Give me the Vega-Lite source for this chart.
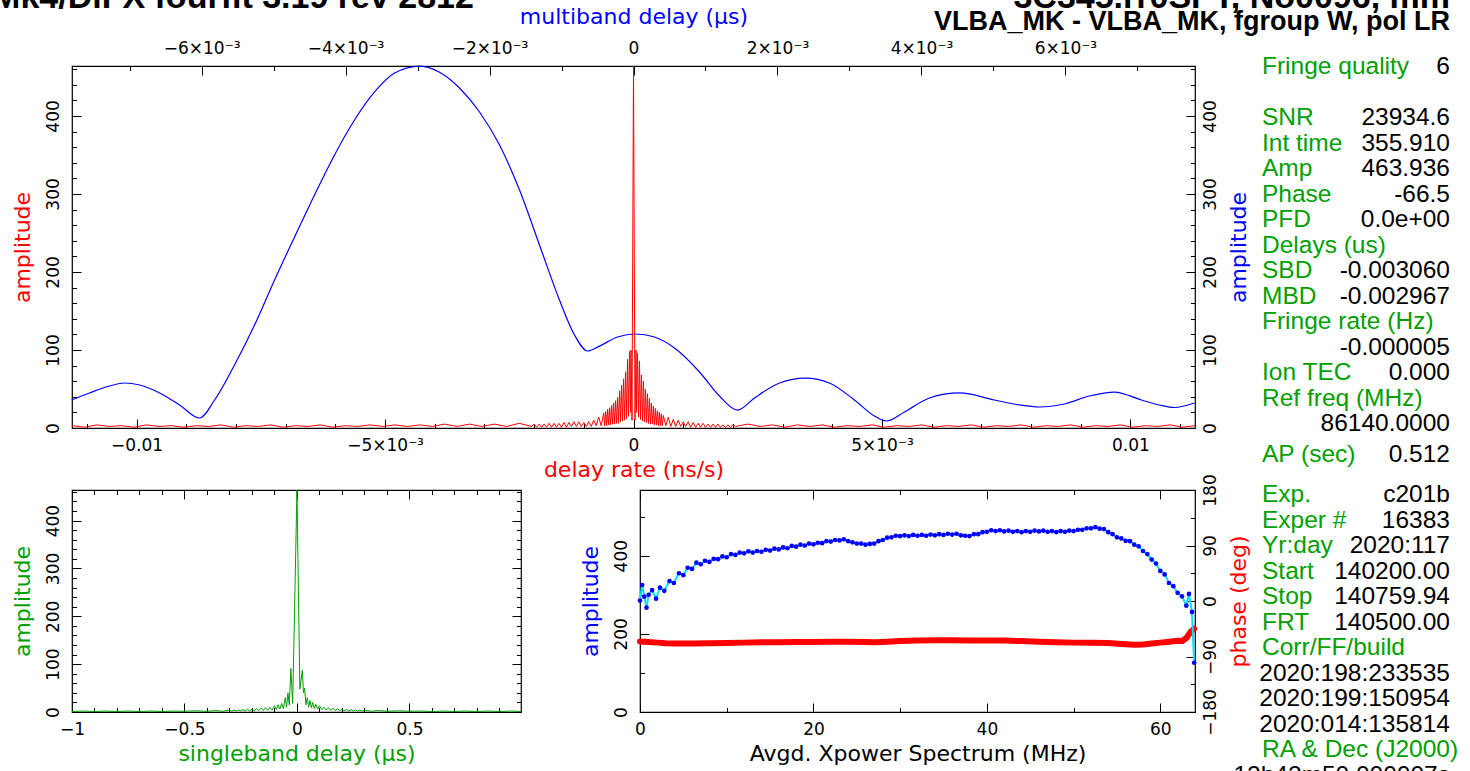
{
  "$schema": "https://vega.github.io/schema/vega-lite/v6.json",
  "autosize": {"type": "none"},
  "padding": {"left": 72, "top": 66, "right": 1398, "bottom": 705},
  "background": "white",
  "config": {
    "view": {"stroke": "black", "strokeWidth": 1.2},
    "axis": {"domain": false, "grid": false, "labelFont": "DejaVu Sans", "labelFontSize": 17, "labelColor": "black", "titleFont": "DejaVu Sans", "titleFontSize": 22, "titleFontWeight": "normal", "labelFlush": false, "labelOverlap": false, "tickColor": "black", "tickWidth": 1, "labelBound": false}
  },
  "datasets": {
    "rate": [
      {"rate":-0.0113,"amp":3},{"rate":-0.01105,"amp":1},{"rate":-0.0108,"amp":4},{"rate":-0.01055,"amp":2},{"rate":-0.0103,"amp":3},{"rate":-0.01005,"amp":1},{"rate":-0.0098,"amp":4},{"rate":-0.00955,"amp":2},{"rate":-0.0093,"amp":3},{"rate":-0.00905,"amp":1},{"rate":-0.0088,"amp":3},{"rate":-0.00855,"amp":2},{"rate":-0.0083,"amp":4},{"rate":-0.00805,"amp":1},{"rate":-0.0078,"amp":3},{"rate":-0.00755,"amp":2},{"rate":-0.0073,"amp":4},{"rate":-0.00705,"amp":1},{"rate":-0.0068,"amp":3},{"rate":-0.00655,"amp":2},{"rate":-0.0063,"amp":4},{"rate":-0.00605,"amp":1},{"rate":-0.0058,"amp":3},{"rate":-0.00555,"amp":2},{"rate":-0.0053,"amp":4},{"rate":-0.00505,"amp":2},{"rate":-0.0048,"amp":4},{"rate":-0.00455,"amp":2},{"rate":-0.0043,"amp":4},{"rate":-0.00405,"amp":2},{"rate":-0.0038,"amp":5},{"rate":-0.00355,"amp":2},{"rate":-0.0033,"amp":5},{"rate":-0.00305,"amp":2},{"rate":-0.0028,"amp":5},{"rate":-0.00255,"amp":2},{"rate":-0.0023,"amp":6},{"rate":-0.00205,"amp":2},
      {"rate":-0.002,"amp":5},{"rate":-0.00195,"amp":1},{"rate":-0.0019,"amp":5},{"rate":-0.00185,"amp":1},{"rate":-0.0018,"amp":5},{"rate":-0.00175,"amp":1},{"rate":-0.0017,"amp":6},{"rate":-0.00165,"amp":1},{"rate":-0.0016,"amp":6},{"rate":-0.00155,"amp":1},{"rate":-0.0015,"amp":6},{"rate":-0.00145,"amp":1},{"rate":-0.0014,"amp":7},{"rate":-0.00135,"amp":1},{"rate":-0.0013,"amp":7},{"rate":-0.00125,"amp":2},{"rate":-0.0012,"amp":8},{"rate":-0.00115,"amp":2},{"rate":-0.0011,"amp":8},{"rate":-0.00105,"amp":2},{"rate":-0.001,"amp":7},{"rate":-0.00095,"amp":2},{"rate":-0.0009,"amp":8},{"rate":-0.00085,"amp":2},{"rate":-0.0008,"amp":10},{"rate":-0.00075,"amp":3},{"rate":-0.0007,"amp":14},{"rate":-0.00065,"amp":3},
      {"rate":-0.0006,"amp":19},{"rate":-0.00058,"amp":3},{"rate":-0.00056,"amp":21},{"rate":-0.00054,"amp":3},{"rate":-0.00052,"amp":24},{"rate":-0.0005,"amp":4},{"rate":-0.00048,"amp":26},{"rate":-0.00046,"amp":4},{"rate":-0.00044,"amp":29},{"rate":-0.00042,"amp":5},{"rate":-0.0004,"amp":32},{"rate":-0.00038,"amp":5},{"rate":-0.00036,"amp":35},{"rate":-0.00034,"amp":6},{"rate":-0.00032,"amp":39},{"rate":-0.0003,"amp":6},{"rate":-0.00028,"amp":48},{"rate":-0.00026,"amp":8},{"rate":-0.00024,"amp":55},{"rate":-0.00022,"amp":9},{"rate":-0.0002,"amp":63},{"rate":-0.00018,"amp":10},{"rate":-0.00016,"amp":72},{"rate":-0.00014,"amp":12},{"rate":-0.00012,"amp":88},{"rate":-0.0001,"amp":15},{"rate":-0.00008,"amp":98},{"rate":-0.00006,"amp":20},{"rate":-0.00005,"amp":100},{"rate":-0.00003,"amp":10},
      {"rate":0,"amp":463.9},
      {"rate":0.00003,"amp":10},{"rate":0.00005,"amp":100},{"rate":0.00006,"amp":20},{"rate":0.00008,"amp":96},{"rate":0.0001,"amp":14},{"rate":0.00012,"amp":86},{"rate":0.00014,"amp":11},{"rate":0.00016,"amp":68},{"rate":0.00018,"amp":9},{"rate":0.0002,"amp":60},{"rate":0.00022,"amp":8},{"rate":0.00024,"amp":50},{"rate":0.00026,"amp":7},{"rate":0.00028,"amp":44},{"rate":0.0003,"amp":6},{"rate":0.00032,"amp":38},{"rate":0.00034,"amp":5},{"rate":0.00036,"amp":32},{"rate":0.00038,"amp":5},{"rate":0.0004,"amp":28},{"rate":0.00042,"amp":4},{"rate":0.00044,"amp":25},{"rate":0.00046,"amp":4},{"rate":0.00048,"amp":22},{"rate":0.0005,"amp":3},{"rate":0.00052,"amp":20},{"rate":0.00054,"amp":3},{"rate":0.00056,"amp":18},{"rate":0.00058,"amp":3},{"rate":0.0006,"amp":16},
      {"rate":0.00065,"amp":3},{"rate":0.0007,"amp":14},{"rate":0.00075,"amp":2},{"rate":0.0008,"amp":11},{"rate":0.00085,"amp":2},{"rate":0.0009,"amp":10},{"rate":0.00095,"amp":2},{"rate":0.001,"amp":8},{"rate":0.00105,"amp":2},{"rate":0.0011,"amp":8},{"rate":0.00115,"amp":1},{"rate":0.0012,"amp":7},{"rate":0.00125,"amp":1},{"rate":0.0013,"amp":6},{"rate":0.00135,"amp":1},{"rate":0.0014,"amp":6},{"rate":0.00145,"amp":1},{"rate":0.0015,"amp":5},{"rate":0.00155,"amp":1},{"rate":0.0016,"amp":5},{"rate":0.00165,"amp":1},{"rate":0.0017,"amp":5},{"rate":0.00175,"amp":1},{"rate":0.0018,"amp":4},{"rate":0.00185,"amp":1},{"rate":0.0019,"amp":4},{"rate":0.00195,"amp":1},{"rate":0.002,"amp":4},
      {"rate":0.00205,"amp":2},{"rate":0.0023,"amp":5},{"rate":0.00255,"amp":2},{"rate":0.0028,"amp":4},{"rate":0.00305,"amp":1},{"rate":0.0033,"amp":4},{"rate":0.00355,"amp":2},{"rate":0.0038,"amp":4},{"rate":0.00405,"amp":1},{"rate":0.0043,"amp":3},{"rate":0.00455,"amp":2},{"rate":0.0048,"amp":4},{"rate":0.00505,"amp":1},{"rate":0.0053,"amp":3},{"rate":0.00555,"amp":2},{"rate":0.0058,"amp":4},{"rate":0.00605,"amp":1},{"rate":0.0063,"amp":3},{"rate":0.00655,"amp":2},{"rate":0.0068,"amp":4},{"rate":0.00705,"amp":1},{"rate":0.0073,"amp":3},{"rate":0.00755,"amp":2},{"rate":0.0078,"amp":4},{"rate":0.00805,"amp":1},{"rate":0.0083,"amp":3},{"rate":0.00855,"amp":2},{"rate":0.0088,"amp":4},{"rate":0.00905,"amp":1},{"rate":0.0093,"amp":3},{"rate":0.00955,"amp":2},{"rate":0.0098,"amp":4},{"rate":0.01005,"amp":1},{"rate":0.0103,"amp":3},{"rate":0.01055,"amp":2},{"rate":0.0108,"amp":4},{"rate":0.01105,"amp":1},{"rate":0.0113,"amp":3}
    ],
    "mbd": [
      {"mbd":-0.007806,"amp":35.9},{"mbd":-0.007556,"amp":44.9},{"mbd":-0.007278,"amp":53.8},{"mbd":-0.007069,"amp":57.7},{"mbd":-0.006861,"amp":55.1},{"mbd":-0.006583,"amp":44.9},{"mbd":-0.006306,"amp":29.5},{"mbd":-0.006028,"amp":12.8},{"mbd":-0.005819,"amp":35.9},{"mbd":-0.005542,"amp":80.8},{"mbd":-0.005264,"amp":132},{"mbd":-0.004986,"amp":189.7},{"mbd":-0.004708,"amp":244.8},{"mbd":-0.004431,"amp":298.7},{"mbd":-0.004153,"amp":350},{"mbd":-0.003875,"amp":394.8},{"mbd":-0.003597,"amp":430.7},{"mbd":-0.003319,"amp":455},{"mbd":-0.002967,"amp":463.9},{"mbd":-0.002694,"amp":456},{"mbd":-0.002417,"amp":435.8},{"mbd":-0.002139,"amp":405},{"mbd":-0.001861,"amp":362.7},{"mbd":-0.001583,"amp":305},{"mbd":-0.001306,"amp":234.6},{"mbd":-0.001028,"amp":164},{"mbd":-0.000819,"amp":119.2},{"mbd":-0.000639,"amp":98.7},{"mbd":-0.000472,"amp":105},{"mbd":-0.000222,"amp":116.6},{"mbd":0.000028,"amp":120.5},{"mbd":0.000292,"amp":116.6},{"mbd":0.000569,"amp":102.5},{"mbd":0.000917,"amp":71.8},{"mbd":0.001194,"amp":41},{"mbd":0.001444,"amp":23},{"mbd":0.001681,"amp":38.5},{"mbd":0.002028,"amp":57.7},{"mbd":0.002389,"amp":64},{"mbd":0.002722,"amp":57.7},{"mbd":0.003069,"amp":35.9},{"mbd":0.003347,"amp":15.4},{"mbd":0.003514,"amp":9},{"mbd":0.003764,"amp":20.5},{"mbd":0.004111,"amp":38.5},{"mbd":0.004528,"amp":44.9},{"mbd":0.005014,"amp":35.9},{"mbd":0.005361,"amp":29.5},{"mbd":0.005639,"amp":26.9},{"mbd":0.005986,"amp":30.8},{"mbd":0.006333,"amp":41},{"mbd":0.006681,"amp":46.1},{"mbd":0.007056,"amp":35.9},{"mbd":0.007306,"amp":29.5},{"mbd":0.007514,"amp":26.3},{"mbd":0.007792,"amp":32}
    ],
    "sbd": [
      {"sbd":-1,"amp":1},{"sbd":-0.95,"amp":2},{"sbd":-0.9,"amp":1},{"sbd":-0.85,"amp":2},{"sbd":-0.8,"amp":1},{"sbd":-0.75,"amp":2},{"sbd":-0.7,"amp":1},{"sbd":-0.65,"amp":2},{"sbd":-0.6,"amp":1},{"sbd":-0.55,"amp":2},{"sbd":-0.5,"amp":1.5},{"sbd":-0.45,"amp":2.5},{"sbd":-0.4,"amp":1.5},{"sbd":-0.36,"amp":3},{"sbd":-0.33,"amp":1.5},{"sbd":-0.3,"amp":4},{"sbd":-0.29,"amp":1.5},{"sbd":-0.28,"amp":4},{"sbd":-0.27,"amp":2},{"sbd":-0.26,"amp":4.5},{"sbd":-0.25,"amp":2},{"sbd":-0.24,"amp":5},{"sbd":-0.23,"amp":2},{"sbd":-0.22,"amp":5.5},{"sbd":-0.21,"amp":2},{"sbd":-0.2,"amp":6},{"sbd":-0.19,"amp":2.5},{"sbd":-0.18,"amp":7},{"sbd":-0.17,"amp":3},{"sbd":-0.16,"amp":8},{"sbd":-0.15,"amp":3},{"sbd":-0.14,"amp":9},{"sbd":-0.13,"amp":3.5},{"sbd":-0.12,"amp":10},{"sbd":-0.11,"amp":4},{"sbd":-0.1,"amp":13},{"sbd":-0.092,"amp":5},{"sbd":-0.084,"amp":15},{"sbd":-0.076,"amp":6},{"sbd":-0.068,"amp":18},{"sbd":-0.06,"amp":7},{"sbd":-0.052,"amp":30},{"sbd":-0.046,"amp":10},{"sbd":-0.04,"amp":40},{"sbd":-0.034,"amp":15},{"sbd":-0.027,"amp":91},{"sbd":-0.019,"amp":18},{"sbd":0,"amp":463.9},{"sbd":0.013,"amp":48},{"sbd":0.024,"amp":87},{"sbd":0.029,"amp":40},{"sbd":0.034,"amp":50},{"sbd":0.04,"amp":15},{"sbd":0.046,"amp":30},{"sbd":0.052,"amp":10},{"sbd":0.058,"amp":24},{"sbd":0.064,"amp":9},{"sbd":0.07,"amp":20},{"sbd":0.077,"amp":7},{"sbd":0.084,"amp":16},{"sbd":0.092,"amp":6},{"sbd":0.1,"amp":13},{"sbd":0.11,"amp":5},{"sbd":0.12,"amp":10},{"sbd":0.13,"amp":4},{"sbd":0.14,"amp":9},{"sbd":0.15,"amp":3.5},{"sbd":0.16,"amp":8},{"sbd":0.17,"amp":3},{"sbd":0.18,"amp":7},{"sbd":0.19,"amp":3},{"sbd":0.2,"amp":6},{"sbd":0.21,"amp":2.5},{"sbd":0.22,"amp":5.5},{"sbd":0.23,"amp":2},{"sbd":0.24,"amp":5},{"sbd":0.25,"amp":2},{"sbd":0.26,"amp":4.5},{"sbd":0.27,"amp":2},{"sbd":0.28,"amp":4},{"sbd":0.29,"amp":2},{"sbd":0.3,"amp":4},{"sbd":0.33,"amp":1.5},{"sbd":0.36,"amp":3},{"sbd":0.4,"amp":1.5},{"sbd":0.45,"amp":2.5},{"sbd":0.5,"amp":1.5},{"sbd":0.55,"amp":2},{"sbd":0.6,"amp":1},{"sbd":0.65,"amp":2},{"sbd":0.7,"amp":1},{"sbd":0.75,"amp":2},{"sbd":0.8,"amp":1},{"sbd":0.85,"amp":2},{"sbd":0.9,"amp":1},{"sbd":0.95,"amp":2},{"sbd":0.996,"amp":1}
    ],
    "xp": [
      {"freq":0,"amp":285},{"freq":0.25,"amp":325},{"freq":0.5,"amp":295},{"freq":0.75,"amp":267},{"freq":1,"amp":300},{"freq":1.4,"amp":312},{"freq":1.85,"amp":290},{"freq":2.3,"amp":318},{"freq":2.8,"amp":310},{"freq":3.4,"amp":335},{"freq":3.9,"amp":330},{"freq":4.5,"amp":355},{"freq":5,"amp":350},{"freq":5.5,"amp":369},{"freq":6,"amp":366},{"freq":6.5,"amp":382},{"freq":7,"amp":378},{"freq":7.5,"amp":387},{"freq":8,"amp":384},{"freq":8.5,"amp":392},{"freq":9,"amp":391},{"freq":9.5,"amp":398},{"freq":10,"amp":396},{"freq":10.5,"amp":404},{"freq":11,"amp":402},{"freq":11.5,"amp":408},{"freq":12,"amp":406},{"freq":12.5,"amp":411},{"freq":13,"amp":408},{"freq":13.5,"amp":412},{"freq":14,"amp":410},{"freq":14.5,"amp":415},{"freq":15,"amp":413},{"freq":15.5,"amp":418},{"freq":16,"amp":416},{"freq":16.5,"amp":421},{"freq":17,"amp":419},{"freq":17.5,"amp":425},{"freq":18,"amp":423},{"freq":18.5,"amp":428},{"freq":19,"amp":426},{"freq":19.5,"amp":431},{"freq":20,"amp":429},{"freq":20.5,"amp":433},{"freq":21,"amp":432},{"freq":21.5,"amp":437},{"freq":22,"amp":436},{"freq":22.5,"amp":440},{"freq":23,"amp":439},{"freq":23.5,"amp":442},{"freq":24,"amp":437},{"freq":24.5,"amp":434},{"freq":25,"amp":431},{"freq":25.5,"amp":431},{"freq":26,"amp":428},{"freq":26.5,"amp":430},{"freq":27,"amp":431},{"freq":27.5,"amp":437},{"freq":28,"amp":440},{"freq":28.5,"amp":446},{"freq":29,"amp":447},{"freq":29.5,"amp":451},{"freq":30,"amp":450},{"freq":30.5,"amp":452},{"freq":31,"amp":450},{"freq":31.5,"amp":453},{"freq":32,"amp":451},{"freq":32.5,"amp":453},{"freq":33,"amp":451},{"freq":33.5,"amp":454},{"freq":34,"amp":452},{"freq":34.5,"amp":455},{"freq":35,"amp":453},{"freq":35.5,"amp":456},{"freq":36,"amp":454},{"freq":36.5,"amp":456},{"freq":37,"amp":452},{"freq":37.5,"amp":451},{"freq":38,"amp":450},{"freq":38.5,"amp":455},{"freq":39,"amp":455},{"freq":39.5,"amp":460},{"freq":40,"amp":461},{"freq":40.5,"amp":465},{"freq":41,"amp":463},{"freq":41.5,"amp":465},{"freq":42,"amp":462},{"freq":42.5,"amp":464},{"freq":43,"amp":461},{"freq":43.5,"amp":463},{"freq":44,"amp":460},{"freq":44.5,"amp":463},{"freq":45,"amp":461},{"freq":45.5,"amp":464},{"freq":46,"amp":462},{"freq":46.5,"amp":464},{"freq":47,"amp":461},{"freq":47.5,"amp":463},{"freq":48,"amp":460},{"freq":48.5,"amp":463},{"freq":49,"amp":461},{"freq":49.5,"amp":464},{"freq":50,"amp":463},{"freq":50.5,"amp":466},{"freq":51,"amp":466},{"freq":51.5,"amp":470},{"freq":52,"amp":470},{"freq":52.5,"amp":473},{"freq":53,"amp":469},{"freq":53.5,"amp":468},{"freq":54,"amp":460},{"freq":54.5,"amp":455},{"freq":55,"amp":447},{"freq":55.5,"amp":444},{"freq":56,"amp":438},{"freq":56.5,"amp":437},{"freq":57,"amp":428},{"freq":57.5,"amp":424},{"freq":58,"amp":412},{"freq":58.5,"amp":404},{"freq":59,"amp":390},{"freq":59.5,"amp":380},{"freq":60,"amp":361},{"freq":60.5,"amp":352},{"freq":61,"amp":330},{"freq":61.5,"amp":322},{"freq":62,"amp":305},{"freq":62.5,"amp":296},{"freq":63,"amp":272},{"freq":63.3,"amp":302},{"freq":63.65,"amp":256},{"freq":63.9,"amp":126}
    ],
    "phase": [
      {"freq":0,"phase":-65.5},{"freq":1,"phase":-66.5},{"freq":2,"phase":-67.5},{"freq":3,"phase":-68.5},{"freq":4,"phase":-69},{"freq":6,"phase":-69},{"freq":8,"phase":-68.5},{"freq":10,"phase":-68},{"freq":12,"phase":-67.5},{"freq":14,"phase":-67},{"freq":16,"phase":-67},{"freq":18,"phase":-66.5},{"freq":20,"phase":-66.5},{"freq":22,"phase":-66},{"freq":24,"phase":-66},{"freq":26,"phase":-66.5},{"freq":27,"phase":-67},{"freq":28,"phase":-66.5},{"freq":30,"phase":-65},{"freq":32,"phase":-64},{"freq":34,"phase":-63.5},{"freq":36,"phase":-63.5},{"freq":38,"phase":-64},{"freq":40,"phase":-64},{"freq":42,"phase":-64},{"freq":44,"phase":-65},{"freq":46,"phase":-66},{"freq":48,"phase":-67},{"freq":50,"phase":-67.5},{"freq":52,"phase":-67.5},{"freq":54,"phase":-68},{"freq":56,"phase":-70},{"freq":57,"phase":-71},{"freq":58,"phase":-70.5},{"freq":59,"phase":-69},{"freq":60,"phase":-67.5},{"freq":61,"phase":-66},{"freq":62,"phase":-64.5},{"freq":62.5,"phase":-65},{"freq":63,"phase":-60},{"freq":63.5,"phase":-50},{"freq":63.9,"phase":-45}
    ],
    "info": [
      {"line":0,"label":"Fringe quality","value":"6"},
      {"line":2,"label":"SNR","value":"23934.6"},
      {"line":3,"label":"Int time","value":"355.910"},
      {"line":4,"label":"Amp","value":"463.936"},
      {"line":5,"label":"Phase","value":"-66.5"},
      {"line":6,"label":"PFD","value":"0.0e+00"},
      {"line":7,"label":"Delays (us)","value":""},
      {"line":8,"label":"SBD","value":"-0.003060"},
      {"line":9,"label":"MBD","value":"-0.002967"},
      {"line":10,"label":"Fringe rate (Hz)","value":""},
      {"line":11,"label":"","value":"-0.000005"},
      {"line":12,"label":"Ion TEC","value":"0.000"},
      {"line":13,"label":"Ref freq (MHz)","value":""},
      {"line":14,"label":"","value":"86140.0000"},
      {"line":15.2,"label":"AP (sec)","value":"0.512"},
      {"line":16.8,"label":"Exp.","value":"c201b"},
      {"line":17.8,"label":"Exper #","value":"16383"},
      {"line":18.8,"label":"Yr:day","value":"2020:117"},
      {"line":19.8,"label":"Start","value":"140200.00"},
      {"line":20.8,"label":"Stop","value":"140759.94"},
      {"line":21.8,"label":"FRT","value":"140500.00"},
      {"line":22.8,"label":"Corr/FF/build","value":""},
      {"line":23.8,"label":"","value":"2020:198:233535"},
      {"line":24.8,"label":"","value":"2020:199:150954"},
      {"line":25.8,"label":"","value":"2020:014:135814"},
      {"line":26.8,"label":"RA & Dec (J2000)","value":""},
      {"line":27.8,"label":"","value":"12h42m50.000007s"}
    ],
    "head": [
      {"line":-2.71,"text":"3C345.rr0SPT, No0096, mm"},
      {"line":-1.77,"text":"VLBA_MK - VLBA_MK, fgroup W, pol LR"}
    ],
    "prog": [
      {"line":-2.71,"text":"Mk4/DiFX fourfit 3.19 rev 2812"}
    ]
  },
  "bounds": "flush",
  "spacing": 62,
  "vconcat": [
    {
      "width": 1123,
      "height": 362,
      "layer": [
        {
          "data": {"name": "mbd"},
          "mark": {"type": "line", "color": "#0000ff", "strokeWidth": 1.2, "interpolate": "monotone"},
          "encoding": {
            "x": {"field": "mbd", "type": "quantitative", "scale": {"domain": [-0.0078, 0.0078], "nice": false, "zero": false},
              "axis": {"orient": "top", "title": "multiband delay (μs)", "titleColor": "#0000ff", "values": [-0.007,-0.006,-0.005,-0.004,-0.003,-0.002,-0.001,0,0.001,0.002,0.003,0.004,0.005,0.006,0.007],
                "labelExpr": "round(datum.value*1000) == 0 ? '0' : (abs(round(datum.value*1000)) % 2 == 0 ? (datum.value < 0 ? '−' : '') + abs(round(datum.value*1000)) + '×10⁻³' : '')",
                "tickSize": {"condition": {"test": "abs(round(datum.value*1000)) % 2 == 0", "value": -9}, "value": -4.5}, "labelPadding": 18, "titlePadding": 6}},
            "y": {"field": "amp", "type": "quantitative", "scale": {"domain": [0, 464], "nice": false},
              "axis": {"orient": "right", "title": "amplitude", "titleColor": "#0000ff", "values": [0,20,40,60,80,100,120,140,160,180,200,220,240,260,280,300,320,340,360,380,400,420,440,460],
                "labelExpr": "datum.value % 100 == 0 ? datum.label : ''", "labelAngle": 270, "labelAlign": "center", "labelBaseline": "top", "titleAngle": 270, "titleBaseline": "top",
                "tickSize": {"condition": {"test": "datum.value % 100 == 0", "value": -9}, "value": -4.5}, "labelPadding": 16, "titlePadding": 6}}
          }
        },
        {
          "data": {"name": "rate"},
          "mark": {"type": "line", "color": "#ff0000", "strokeWidth": 1},
          "encoding": {
            "x": {"field": "rate", "type": "quantitative", "scale": {"domain": [-0.0113, 0.0113], "nice": false, "zero": false},
              "axis": {"orient": "bottom", "title": "delay rate (ns/s)", "titleColor": "#ff0000", "values": [-0.011,-0.01,-0.009,-0.008,-0.007,-0.006,-0.005,-0.004,-0.003,-0.002,-0.001,0,0.001,0.002,0.003,0.004,0.005,0.006,0.007,0.008,0.009,0.01,0.011],
                "labelExpr": "round(datum.value*1000) == 0 ? '0' : (abs(round(datum.value*1000)) == 10 ? (datum.value < 0 ? '−0.01' : '0.01') : (abs(round(datum.value*1000)) == 5 ? (datum.value < 0 ? '−5×10⁻³' : '5×10⁻³') : ''))",
                "tickSize": {"condition": {"test": "abs(round(datum.value*1000)) % 5 == 0", "value": -9}, "value": -4.5}, "labelPadding": 18, "titlePadding": 2}},
            "y": {"field": "amp", "type": "quantitative", "scale": {"domain": [0, 464], "nice": false},
              "axis": {"orient": "left", "title": "amplitude", "titleColor": "#ff0000", "values": [0,20,40,60,80,100,120,140,160,180,200,220,240,260,280,300,320,340,360,380,400,420,440,460],
                "labelExpr": "datum.value % 100 == 0 ? datum.label : ''", "labelAngle": 270, "labelAlign": "center", "labelBaseline": "bottom",
                "tickSize": {"condition": {"test": "datum.value % 100 == 0", "value": -9}, "value": -4.5}, "labelPadding": 19, "titlePadding": 5}}
          }
        },
        {
          "layer": [
            {
              "data": {"name": "info"},
              "mark": {"type": "text", "align": "left", "baseline": "middle", "font": "Liberation Sans", "fontSize": 24.5, "color": "#00a000"},
              "encoding": {
                "x": {"datum": 0, "type": "quantitative", "scale": {"domain": [0, 1], "range": [1190, 1378]}, "axis": null},
                "y": {"field": "line", "type": "quantitative", "scale": {"domain": [0, 28], "range": [1, 715]}, "axis": null},
                "text": {"field": "label"}
              }
            },
            {
              "data": {"name": "info"},
              "mark": {"type": "text", "align": "right", "baseline": "middle", "font": "Liberation Sans", "fontSize": 24.5, "color": "black"},
              "encoding": {
                "x": {"datum": 1, "type": "quantitative", "scale": {"domain": [0, 1], "range": [1190, 1378]}, "axis": null},
                "y": {"field": "line", "type": "quantitative", "scale": {"domain": [0, 28], "range": [1, 715]}, "axis": null},
                "text": {"field": "value"}
              }
            },
            {
              "data": {"name": "prog"},
              "mark": {"type": "text", "align": "left", "baseline": "middle", "font": "Liberation Sans", "fontSize": 34, "fontWeight": "bold", "color": "black"},
              "encoding": {
                "x": {"datum": -6.755, "type": "quantitative", "scale": {"domain": [0, 1], "range": [1190, 1378]}, "axis": null},
                "y": {"field": "line", "type": "quantitative", "scale": {"domain": [0, 28], "range": [1, 715]}, "axis": null},
                "text": {"field": "text"}
              }
            },
            {
              "data": {"name": "head"},
              "transform": [{"filter": "datum.line < -2.5"}],
              "mark": {"type": "text", "align": "right", "baseline": "middle", "font": "Liberation Sans", "fontSize": 34, "fontWeight": "bold", "color": "black"},
              "encoding": {
                "x": {"datum": 1, "type": "quantitative", "scale": {"domain": [0, 1], "range": [1190, 1378]}, "axis": null},
                "y": {"field": "line", "type": "quantitative", "scale": {"domain": [0, 28], "range": [1, 715]}, "axis": null},
                "text": {"field": "text"}
              }
            },
            {
              "data": {"name": "head"},
              "transform": [{"filter": "datum.line >= -2.5"}],
              "mark": {"type": "text", "align": "right", "baseline": "middle", "font": "Liberation Sans", "fontSize": 27, "fontWeight": "bold", "color": "black"},
              "encoding": {
                "x": {"datum": 1, "type": "quantitative", "scale": {"domain": [0, 1], "range": [1190, 1378]}, "axis": null},
                "y": {"field": "line", "type": "quantitative", "scale": {"domain": [0, 28], "range": [1, 715]}, "axis": null},
                "text": {"field": "text"}
              }
            }
          ]
        }
      ],
      "resolve": {"scale": {"x": "independent", "y": "independent"}, "axis": {"x": "independent", "y": "independent"}}
    },
    {
      "bounds": "flush",
      "spacing": 119,
      "hconcat": [
        {
          "width": 449,
          "height": 222,
          "data": {"name": "sbd"},
          "layer": [
            {
              "mark": {"type": "line", "color": "#00a000", "strokeWidth": 1},
              "encoding": {
                "x": {"field": "sbd", "type": "quantitative", "scale": {"domain": [-1, 0.996], "nice": false, "zero": false},
                  "axis": {"orient": "bottom", "title": "singleband delay (μs)", "titleColor": "#00a000", "values": [-1,-0.9,-0.8,-0.7,-0.6,-0.5,-0.4,-0.3,-0.2,-0.1,0,0.1,0.2,0.3,0.4,0.5,0.6,0.7,0.8,0.9],
                    "labelExpr": "abs(round(datum.value*10)) % 5 == 0 ? format(datum.value, '~g') : ''",
                    "tickSize": {"condition": {"test": "abs(round(datum.value*10)) % 5 == 0", "value": -9}, "value": -4.5}, "labelPadding": 18, "titlePadding": 2}},
                "y": {"field": "amp", "type": "quantitative", "scale": {"domain": [0, 464], "nice": false},
                  "axis": {"orient": "left", "title": "amplitude", "titleColor": "#00a000", "values": [0,20,40,60,80,100,120,140,160,180,200,220,240,260,280,300,320,340,360,380,400,420,440,460],
                    "labelExpr": "datum.value % 100 == 0 ? datum.label : ''", "labelAngle": 270, "labelAlign": "center", "labelBaseline": "bottom",
                    "tickSize": {"condition": {"test": "datum.value % 100 == 0", "value": -9}, "value": -4.5}, "labelPadding": 19, "titlePadding": 5}}
              }
            },
            {
              "mark": {"type": "line", "opacity": 0},
              "encoding": {
                "x": {"field": "sbd", "type": "quantitative", "scale": {"domain": [-1, 0.996], "nice": false, "zero": false},
                  "axis": {"orient": "top", "title": null, "labels": false, "values": [-1,-0.9,-0.8,-0.7,-0.6,-0.5,-0.4,-0.3,-0.2,-0.1,0,0.1,0.2,0.3,0.4,0.5,0.6,0.7,0.8,0.9],
                    "tickSize": {"condition": {"test": "abs(round(datum.value*10)) % 5 == 0", "value": -9}, "value": -4.5}}},
                "y": {"field": "amp", "type": "quantitative", "scale": {"domain": [0, 464], "nice": false},
                  "axis": {"orient": "right", "title": null, "labels": false, "values": [0,20,40,60,80,100,120,140,160,180,200,220,240,260,280,300,320,340,360,380,400,420,440,460],
                    "tickSize": {"condition": {"test": "datum.value % 100 == 0", "value": -9}, "value": -4.5}}}
              }
            }
          ],
          "resolve": {"axis": {"x": "independent", "y": "independent"}}
        },
        {
          "width": 555,
          "height": 222,
          "layer": [
            {
              "data": {"name": "phase"},
              "mark": {"type": "line", "color": "#ff0000", "strokeWidth": 6, "strokeCap": "round"},
              "encoding": {
                "x": {"field": "freq", "type": "quantitative", "scale": {"domain": [0, 64], "nice": false, "zero": false},
                  "axis": {"orient": "top", "title": null, "labels": false, "values": [0,10,20,30,40,50,60],
                    "tickSize": {"condition": {"test": "datum.value % 20 == 0", "value": -9}, "value": -4.5}}},
                "y": {"field": "phase", "type": "quantitative", "scale": {"domain": [-180, 180], "nice": false, "zero": false},
                  "axis": {"orient": "right", "title": "phase (deg)", "titleColor": "#ff0000", "values": [-180,-135,-90,-45,0,45,90,135,180],
                    "labelExpr": "datum.value % 90 == 0 ? datum.label : ''", "labelAngle": 270, "labelAlign": "center", "labelBaseline": "top", "titleAngle": 270, "titleBaseline": "top",
                    "tickSize": {"condition": {"test": "datum.value % 90 == 0", "value": -9}, "value": -4.5}, "labelPadding": 16, "titlePadding": 6}}
              }
            },
            {
              "data": {"name": "xp"},
              "mark": {"type": "line", "color": "#00e0ff", "strokeWidth": 2},
              "encoding": {
                "x": {"field": "freq", "type": "quantitative", "scale": {"domain": [0, 64], "nice": false, "zero": false},
                  "axis": {"orient": "bottom", "title": "Avgd. Xpower Spectrum (MHz)", "titleColor": "black", "values": [0,10,20,30,40,50,60],
                    "labelExpr": "datum.value % 20 == 0 ? datum.label : ''",
                    "tickSize": {"condition": {"test": "datum.value % 20 == 0", "value": -9}, "value": -4.5}, "labelPadding": 18, "titlePadding": 2}},
                "y": {"field": "amp", "type": "quantitative", "scale": {"domain": [0, 568], "nice": false},
                  "axis": {"orient": "left", "title": "amplitude", "titleColor": "#0000ff", "values": [0,100,200,300,400,500],
                    "labelExpr": "datum.value % 200 == 0 ? datum.label : ''", "labelAngle": 270, "labelAlign": "center", "labelBaseline": "bottom",
                    "tickSize": {"condition": {"test": "datum.value % 200 == 0", "value": -9}, "value": -4.5}, "labelPadding": 19, "titlePadding": 5}}
              }
            },
            {
              "data": {"name": "xp"},
              "mark": {"type": "point", "filled": true, "color": "#0000ff", "size": 22, "opacity": 1},
              "encoding": {
                "x": {"field": "freq", "type": "quantitative", "scale": {"domain": [0, 64], "nice": false, "zero": false}, "axis": null},
                "y": {"field": "amp", "type": "quantitative", "scale": {"domain": [0, 568], "nice": false}, "axis": null}
              }
            }
          ],
          "resolve": {"scale": {"y": "independent"}, "axis": {"x": "independent", "y": "independent"}}
        }
      ]
    }
  ]
}
